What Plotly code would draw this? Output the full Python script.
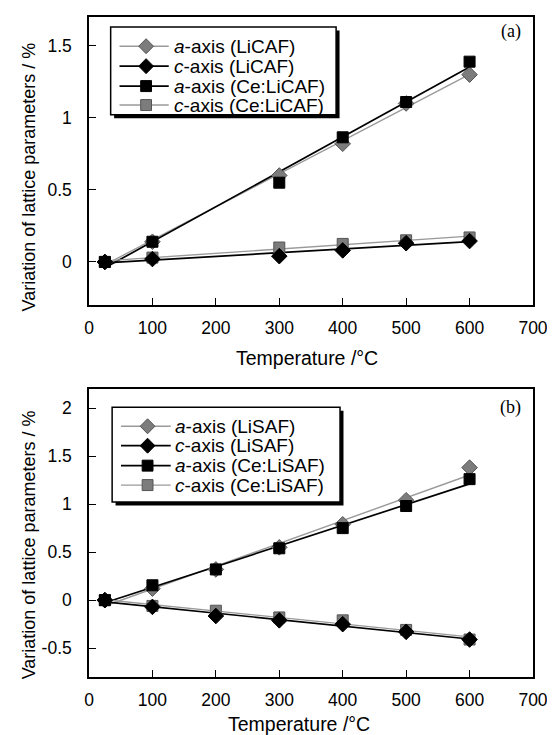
import numpy as np
import plotly.graph_objects as go
from plotly.subplots import make_subplots

# ---------------- data ----------------
temp_a = [25, 100, 300, 400, 500, 600]
a_LiCAF = [0.0, 0.14, 0.60, 0.82, 1.10, 1.30]
c_LiCAF = [0.0, 0.02, 0.04, 0.08, 0.13, 0.145]
a_CeLiCAF = [0.0, 0.14, 0.55, 0.865, 1.11, 1.39]
c_CeLiCAF = [0.0, 0.03, 0.10, 0.125, 0.15, 0.17]

temp_b = [25, 100, 200, 300, 400, 500, 600]
a_LiSAF = [0.0, 0.12, 0.32, 0.55, 0.79, 1.04, 1.38]
c_LiSAF = [0.0, -0.07, -0.165, -0.21, -0.25, -0.33, -0.41]
a_CeLiSAF = [0.0, 0.155, 0.32, 0.54, 0.75, 0.98, 1.26]
c_CeLiSAF = [0.0, -0.06, -0.11, -0.18, -0.21, -0.31, -0.41]

x_ticks = [0, 100, 200, 300, 400, 500, 600, 700]
y_ticks_a = [0, 0.5, 1, 1.5]
y_ticks_b = [-0.5, 0, 0.5, 1, 1.5, 2]
y_ticktext_b = ["-0.5", "0", "0.5", "1", "1.5", "2"]

names_a = ["<i>a</i>-axis (LiCAF)", "<i>c</i>-axis (LiCAF)",
           "<i>a</i>-axis (Ce:LiCAF)", "<i>c</i>-axis (Ce:LiCAF)"]
names_b = ["<i>a</i>-axis (LiSAF)", "<i>c</i>-axis (LiSAF)",
           "<i>a</i>-axis (Ce:LiSAF)", "<i>c</i>-axis (Ce:LiSAF)"]

# ---------------- styles ----------------
FONT = "Liberation Sans, Arial, Helvetica, sans-serif"
GRAY = "#7c7c7c"
GRAY_LINE = "#9a9a9a"
styles = [
    dict(symbol="diamond", color=GRAY, edge="#555555", size=12, line=GRAY_LINE, lw=1.4),
    dict(symbol="diamond", color="black", edge="black", size=12, line="black", lw=1.7),
    dict(symbol="square", color="black", edge="black", size=11, line="black", lw=1.7),
    dict(symbol="square", color=GRAY, edge="#555555", size=11, line=GRAY_LINE, lw=1.4),
]

W, H = 547, 727
ML, MR, MT, MB = 81, 15, 7, 58
PW, PH = W - ML - MR, H - MT - MB


def px2paper(px, py):
    # page pixel (figure sits 8px inside the page) -> paper coords
    fx, fy = px - 8, py - 8
    return (fx - ML) / PW, 1 - (fy - MT) / PH


fig = make_subplots(rows=2, cols=1, vertical_spacing=0.1268)


def add_panel(row, temps, series):
    for s, st in zip(series, styles):
        k, b = np.polyfit(temps, s, 1)
        xs = [temps[0], temps[-1]]
        fig.add_trace(go.Scatter(x=xs, y=[k * xs[0] + b, k * xs[1] + b], mode="lines",
                                 line=dict(color=st["line"], width=st["lw"]),
                                 showlegend=False, hoverinfo="skip"), row=row, col=1)
    for idx in [3, 0, 2, 1]:
        st = styles[idx]
        fig.add_trace(go.Scatter(x=temps, y=series[idx], mode="markers",
                                 marker=dict(symbol=st["symbol"], size=st["size"], color=st["color"],
                                             line=dict(color=st["edge"], width=1)),
                                 showlegend=False), row=row, col=1)


add_panel(1, temp_a, [a_LiCAF, c_LiCAF, a_CeLiCAF, c_CeLiCAF])
add_panel(2, temp_b, [a_LiSAF, c_LiSAF, a_CeLiSAF, c_CeLiSAF])

axis_common = dict(showline=True, mirror=True, linecolor="black", linewidth=1.5,
                   ticks="inside", ticklen=7, tickwidth=1.2, tickcolor="black",
                   showgrid=False, zeroline=False, ticklabeloverflow="allow",
                   tickfont=dict(family=FONT, size=17.5, color="black"))

for r in (1, 2):
    fig.update_xaxes(range=[0, 700], tickvals=x_ticks, ticklabelstandoff=6, row=r, col=1, **axis_common)
fig.update_yaxes(range=[-0.3, 1.7], tickvals=y_ticks_a, ticklabelstandoff=12, row=1, col=1, **axis_common)
fig.update_yaxes(range=[-0.8, 2.2], tickvals=y_ticks_b, ticktext=y_ticktext_b,
                 ticklabelstandoff=12, row=2, col=1, **axis_common)

fig.update_layout(
    width=W, height=H,
    margin=dict(l=ML, r=MR, t=MT, b=MB),
    paper_bgcolor="white", plot_bgcolor="white",
    showlegend=False,
    yaxis=dict(domain=[0.5634, 1.0]), yaxis2=dict(domain=[0.0, 0.4366]),
)


# ---------------- hand-built legends (box with drop shadow) ----------------
def rect(px0, py0, px1, py1, fill, line_color=None, line_w=0):
    x0, y0 = px2paper(px0, py0)
    x1, y1 = px2paper(px1, py1)
    fig.add_shape(type="rect", xref="paper", yref="paper", x0=x0, y0=y0, x1=x1, y1=y1,
                  fillcolor=fill, line=dict(color=line_color or fill, width=line_w), layer="above")


def legend_block(box, rows_y, line_x, mark_x, text_x, names):
    bx0, by0, bx1, by1 = box
    rect(bx0 + 3.5, by0 + 3.5, bx1 + 3.5, by1 + 3.5, "black")
    rect(bx0, by0, bx1, by1, "white", "black", 1.5)
    for yy, nm, st in zip(rows_y, names, styles):
        x0, y0 = px2paper(line_x[0], yy)
        x1, _ = px2paper(line_x[1], yy)
        fig.add_shape(type="line", xref="paper", yref="paper", x0=x0, y0=y0, x1=x1, y1=y0,
                      line=dict(color=st["line"], width=st["lw"]), layer="above")
        if st["symbol"] == "diamond":
            r = 7.5
            pts = [(mark_x, yy - r), (mark_x + r, yy), (mark_x, yy + r), (mark_x - r, yy)]
            p = [px2paper(a, b) for a, b in pts]
            path = "M" + " L".join(f"{a:.5f},{b:.5f}" for a, b in p) + " Z"
            fig.add_shape(type="path", xref="paper", yref="paper", path=path,
                          fillcolor=st["color"], line=dict(color=st["edge"], width=1), layer="above")
        else:
            h = 5.5
            rect(mark_x - h, yy - h, mark_x + h, yy + h, st["color"], st["edge"], 1)
        tx, ty = px2paper(text_x, yy)
        fig.add_annotation(text=nm, xref="paper", yref="paper", x=tx, y=ty, showarrow=False,
                           xanchor="left", yanchor="middle",
                           font=dict(family=FONT, size=19, color="black"))


legend_block((111, 25, 340, 113), [44.3, 64.3, 84.3, 103.3], (120, 170), 147, 173, names_a)
legend_block((112.5, 406.5, 344, 501.5), [425.5, 445, 465, 484.5], (121.5, 172), 148.5, 174, names_b)

# ---------------- axis titles and panel labels ----------------
ann = [
    ("Variation of lattice parameters / %", 28, 175, -90, 18),
    ("Variation of lattice parameters / %", 28, 544, -90, 18),
    ("Temperature /°C", 310, 357, 0, 19.5),
    ("Temperature /°C", 302, 724, 0, 19.5),
]
for txt, px, py, ang, fs in ann:
    x, y = px2paper(px, py)
    fig.add_annotation(text=txt, xref="paper", yref="paper", x=x, y=y, textangle=ang,
                       showarrow=False, xanchor="center", yanchor="middle",
                       font=dict(family=FONT, size=fs, color="black"))

for lab, px, py in [("(a)", 518, 30), ("(b)", 517, 407)]:
    x, y = px2paper(px, py)
    fig.add_annotation(text=lab, xref="paper", yref="paper", x=x, y=y, showarrow=False,
                       xanchor="center", yanchor="middle",
                       font=dict(family="Liberation Serif, Times New Roman, serif", size=18, color="black"))

fig.write_html("out.html")
